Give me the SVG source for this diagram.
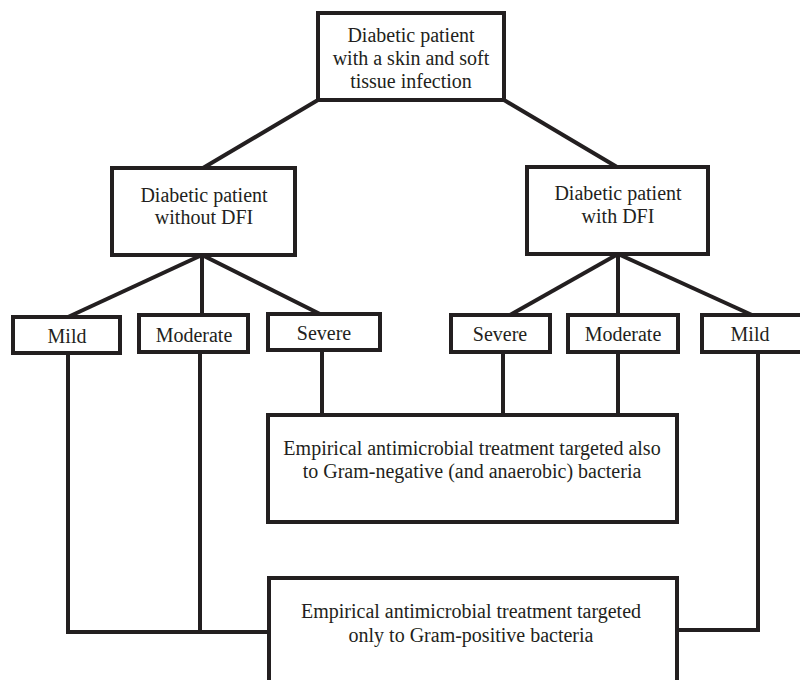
<svg xmlns="http://www.w3.org/2000/svg" width="800" height="680" viewBox="0 0 800 680">
<style>
.box{fill:#fff;stroke:#231f20;stroke-width:4}
.ln{fill:none;stroke:#231f20;stroke-width:4;stroke-linejoin:miter}
text{font-family:"Liberation Serif","Times New Roman",serif;font-size:20px;fill:#231f20;text-anchor:middle}
</style>
<rect width="800" height="680" fill="#fff"/>
<g id="connectors">
<line class="ln" x1="318" y1="100" x2="203" y2="168"/>
<line class="ln" x1="504" y1="100" x2="617" y2="167"/>
<line class="ln" x1="202" y1="255" x2="68" y2="317"/>
<line class="ln" x1="202" y1="255" x2="202" y2="315"/>
<line class="ln" x1="202" y1="255" x2="320" y2="314"/>
<line class="ln" x1="618" y1="254" x2="510" y2="315"/>
<line class="ln" x1="618" y1="254" x2="618" y2="315"/>
<line class="ln" x1="618" y1="254" x2="752" y2="315"/>
<line class="ln" x1="322" y1="350" x2="322" y2="415"/>
<line class="ln" x1="503" y1="352" x2="503" y2="415"/>
<line class="ln" x1="618" y1="352" x2="618" y2="415"/>
<polyline class="ln" points="68,353 68,632 269,632"/>
<line class="ln" x1="200" y1="352" x2="200" y2="632"/>
<polyline class="ln" points="758,352 758,630 677,630"/>
</g>
<g id="root">
<rect class="box" x="318" y="13" width="186" height="87"/>
<text x="411" y="42">Diabetic patient</text>
<text x="411" y="65">with a skin and soft</text>
<text x="411" y="88">tissue infection</text>
</g>
<g id="noDFI">
<rect class="box" x="112" y="168" width="183" height="87"/>
<text x="204" y="202">Diabetic patient</text>
<text x="204" y="224">without DFI</text>
</g>
<g id="withDFI">
<rect class="box" x="527" y="167" width="181" height="87"/>
<text x="618" y="200">Diabetic patient</text>
<text x="618" y="223">with DFI</text>
</g>
<g id="mildL">
<rect class="box" x="13" y="317" width="107" height="36"/>
<text x="67" y="343">Mild</text>
</g>
<g id="moderateL">
<rect class="box" x="139" y="315" width="109" height="37"/>
<text x="194" y="342">Moderate</text>
</g>
<g id="severeL">
<rect class="box" x="268" y="314" width="112" height="36"/>
<text x="324" y="340">Severe</text>
</g>
<g id="severeR">
<rect class="box" x="451" y="315" width="99" height="37"/>
<text x="500" y="341">Severe</text>
</g>
<g id="moderateR">
<rect class="box" x="568" y="315" width="110" height="37"/>
<text x="623" y="341">Moderate</text>
</g>
<g id="mildR">
<rect class="box" x="702" y="315" width="110" height="37"/>
<text x="750" y="341">Mild</text>
</g>
<g id="gramNeg">
<rect class="box" x="268" y="415" width="409" height="107"/>
<text x="472" y="455">Empirical antimicrobial treatment targeted also</text>
<text x="472" y="478">to Gram-negative (and anaerobic) bacteria</text>
</g>
<g id="gramPos">
<rect class="box" x="269" y="578" width="408" height="120"/>
<text x="471" y="618">Empirical antimicrobial treatment targeted</text>
<text x="471" y="642">only to Gram-positive bacteria</text>
</g>
</svg>
